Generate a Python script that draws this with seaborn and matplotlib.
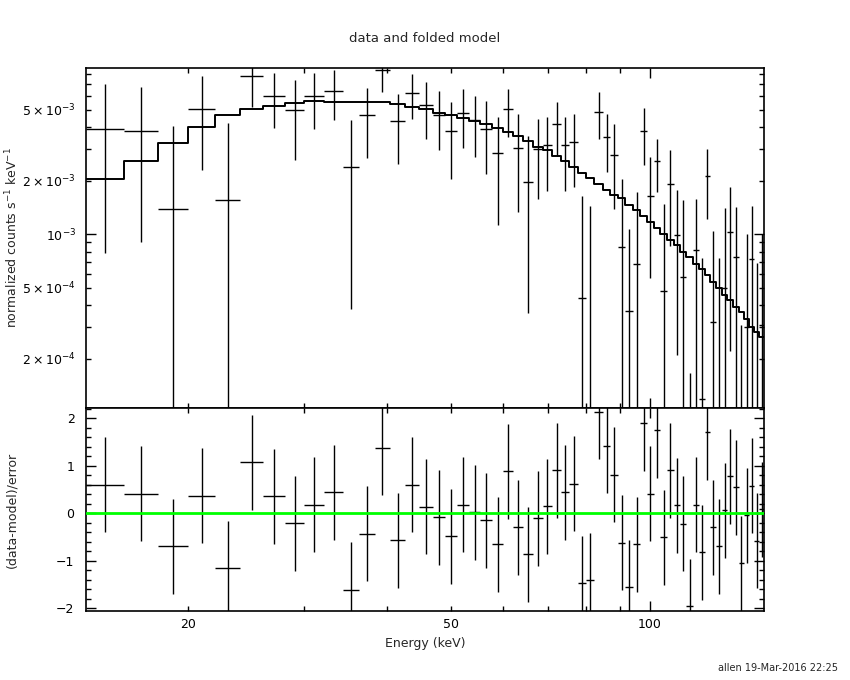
import numpy as np
import matplotlib
matplotlib.use("Agg")
import matplotlib.pyplot as plt
import seaborn as sns
from matplotlib.ticker import FixedLocator, FixedFormatter, FuncFormatter


# energy bin edges (keV), 59 bins
energy_edges = [14.0, 16.0, 18.0, 20.0, 22.0, 24.0, 26.0, 28.0, 30.0, 32.1,
                34.3, 36.3, 38.3, 40.4, 42.6, 44.7, 46.9, 48.9, 51.1, 53.3,
                55.3, 57.7, 59.9, 62.1, 64.3, 66.5, 68.8, 71.1, 73.3, 75.5,
                77.8, 80.1, 82.4, 84.8, 87.1, 89.4, 91.8, 94.2, 96.6, 98.9,
                101.3, 103.7, 106.1, 108.6, 111.0, 113.5, 116.0, 118.5, 120.9, 123.3,
                125.9, 128.5, 130.9, 133.5, 136.1, 138.7, 141.2, 143.7, 146.4, 148.9]

# normalized counts s-1 keV-1, in units of 1e-3
rate = [3.89, 3.81, 1.38, 5.04, 1.55, 7.76, 5.99, 4.98, 5.99, 6.37,
        2.38, 4.67, 8.39, 4.32, 6.20, 5.31, 4.67, 3.79, 4.79, 4.36,
        3.89, 2.85, 5.04, 3.04, 1.96, 3.00, 3.16, 4.17, 3.16, 3.30,
        0.437, -0.04, 4.85, 3.51, 2.78, 0.845, 0.369, 0.681, 3.79, 1.64,
        2.58, 0.48, 1.91, 0.991, 0.575, -0.44, 0.813, 0.118, 2.12, 0.32,
        -0.068, 0.501, 1.03, 0.748, -0.54, 0.303, 0.724, -0.27, 0.31]

rate_err = [3.1, 2.9, 2.68, 2.75, 2.69, 2.55, 2.05, 2.36, 2.1, 2.0,
            2.0, 2.0, 2.1, 1.83, 1.75, 1.87, 1.7, 1.74, 1.75, 1.63,
            1.71, 1.72, 1.5, 1.7, 1.6, 1.43, 1.4, 1.4, 1.41, 1.45,
            1.2, 1.49, 1.42, 1.26, 1.39, 1.19, 0.706, 1.05, 1.35, 1.07,
            0.86, 1.0, 1.05, 0.78, 0.98, 0.606, 0.76, 0.62, 0.9, 0.72,
            0.807, 0.9, 0.81, 0.68, 0.85, 0.70, 0.72, 0.96, 0.70]

folded_model = [2.05, 2.59, 3.25, 4.03, 4.67, 5.08, 5.24, 5.49, 5.61, 5.52,
                5.52, 5.56, 5.52, 5.38, 5.21, 5.06, 4.83, 4.69, 4.51, 4.34,
                4.15, 3.97, 3.77, 3.56, 3.36, 3.11, 2.98, 2.77, 2.58, 2.38,
                2.22, 2.06, 1.91, 1.77, 1.66, 1.59, 1.47, 1.37, 1.27, 1.17,
                1.08, 1.00, 0.929, 0.871, 0.798, 0.748, 0.681, 0.636, 0.590, 0.540,
                0.497, 0.456, 0.427, 0.392, 0.367, 0.334, 0.303, 0.284, 0.266]

# (data-model)/error
residual = [0.60, 0.41, -0.70, 0.37, -1.16, 1.07, 0.36, -0.21, 0.18, 0.435,
            -1.61, -0.43, 1.38, -0.575, 0.60, 0.14, -0.09, -0.49, 0.18, 0.02,
            -0.15, -0.66, 0.88, -0.30, -0.87, -0.11, 0.15, 0.90, 0.435, 0.62,
            -1.48, -1.41, 2.13, 1.42, 0.81, -0.62, -1.56, -0.66, 1.89, 0.41,
            1.75, -0.51, 0.90, 0.17, -0.22, -1.96, 0.18, -0.82, 1.70, -0.30,
            -0.70, 0.06, 0.78, 0.55, -1.06, -0.04, 0.58, -0.58, 0.08]

sns.set_style("ticks")
plt.rcParams["font.family"] = ["DejaVu Sans"]
plt.rcParams["mathtext.fontset"] = "dejavusans"
plt.rcParams["font.size"] = 9

edges = np.array(energy_edges)
centers = (edges[:-1] + edges[1:]) / 2
half = (edges[1:] - edges[:-1]) / 2
y = np.array(rate) * 1e-3
yerr = np.array(rate_err) * 1e-3
m = np.array(folded_model) * 1e-3

fig = plt.figure(figsize=(8.5, 6.8), dpi=100)
ax1 = fig.add_axes([0.1008, 0.4004, 0.7984, 0.4992])
ax2 = fig.add_axes([0.1008, 0.1015, 0.7984, 0.2989], sharex=ax1)

ax1.set_xscale("log")
ax1.set_yscale("log")

# data crosses
ax1.errorbar(centers, y, xerr=half, yerr=yerr, fmt="none",
             ecolor="black", elinewidth=1, capsize=0)
# folded model histogram
sns.lineplot(x=edges, y=np.append(m, m[-1]), drawstyle="steps-post",
             estimator=None, color="black", lw=1.4, ax=ax1)

ax2.errorbar(centers, residual, xerr=half, yerr=1.0, fmt="none",
             ecolor="black", elinewidth=1, capsize=0)
ax2.axhline(0, color="#00ff00", lw=2, zorder=5)

ax1.set_xlim(14.0, 148.9)
ax1.set_ylim(1.06e-4, 8.57e-3)
ax2.set_ylim(-2.06, 2.22)

for ax in (ax1, ax2):
    for s in ax.spines.values():
        s.set_linewidth(1.2)
        s.set_color("black")
    ax.tick_params(which="both", direction="in", top=True, right=True,
                   width=1, colors="black", labelsize=9)
    ax.tick_params(which="major", length=7)
    ax.tick_params(which="minor", length=3.5)
    ax.set_xlabel("")
    ax.set_ylabel("")

# x ticks (shared)
ax2.xaxis.set_major_locator(FixedLocator([100]))
ax2.xaxis.set_major_formatter(FixedFormatter(["100"]))
ax2.xaxis.set_minor_locator(FixedLocator([20, 30, 40, 50, 60, 70, 80, 90]))
ax2.xaxis.set_minor_formatter(FuncFormatter(lambda v, p: f"{v:g}" if v in (20, 50) else ""))
ax1.tick_params(which="both", labelbottom=False)
ax2.tick_params(axis="x", which="both", pad=5)

# y ticks top panel
ax1.yaxis.set_major_locator(FixedLocator([1e-3]))
ax1.yaxis.set_major_formatter(FixedFormatter([r"$10^{-3}$"]))
minor_y = [2e-4, 3e-4, 4e-4, 5e-4, 6e-4, 7e-4, 8e-4, 9e-4,
           2e-3, 3e-3, 4e-3, 5e-3, 6e-3, 7e-3, 8e-3]
minor_lab = {2e-4: r"$2\times10^{-4}$", 5e-4: r"$5\times10^{-4}$",
             2e-3: r"$2\times10^{-3}$", 5e-3: r"$5\times10^{-3}$"}
ax1.yaxis.set_minor_locator(FixedLocator(minor_y))
ax1.yaxis.set_minor_formatter(FixedFormatter([minor_lab.get(v, "") for v in minor_y]))
ax1.tick_params(axis="y", which="both", pad=7)

# y ticks bottom panel
ax2.yaxis.set_major_locator(FixedLocator([-2, -1, 0, 1, 2]))
ax2.yaxis.set_minor_locator(FixedLocator(np.arange(-2.0, 2.21, 0.2)))
ax2.tick_params(axis="y", which="both", pad=8)

fig.text(0.5, 1 - 38 / 680, "data and folded model", ha="center", va="center", fontsize=9.5)
fig.text(12 / 850, 1 - 238 / 680, r"normalized counts s$^{-1}$ keV$^{-1}$",
         rotation=90, ha="center", va="center", fontsize=9)
fig.text(12 / 850, 1 - 510 / 680, "(data-model)/error",
         rotation=90, ha="center", va="center", fontsize=9)
fig.text(0.5, 1 - 643 / 680, "Energy (keV)", ha="center", va="center", fontsize=9)
fig.text(838 / 850, 1 - 668 / 680, "allen 19-Mar-2016 22:25",
         ha="right", va="center", fontsize=7)

fig.savefig("out.png", dpi=100, facecolor="white")
